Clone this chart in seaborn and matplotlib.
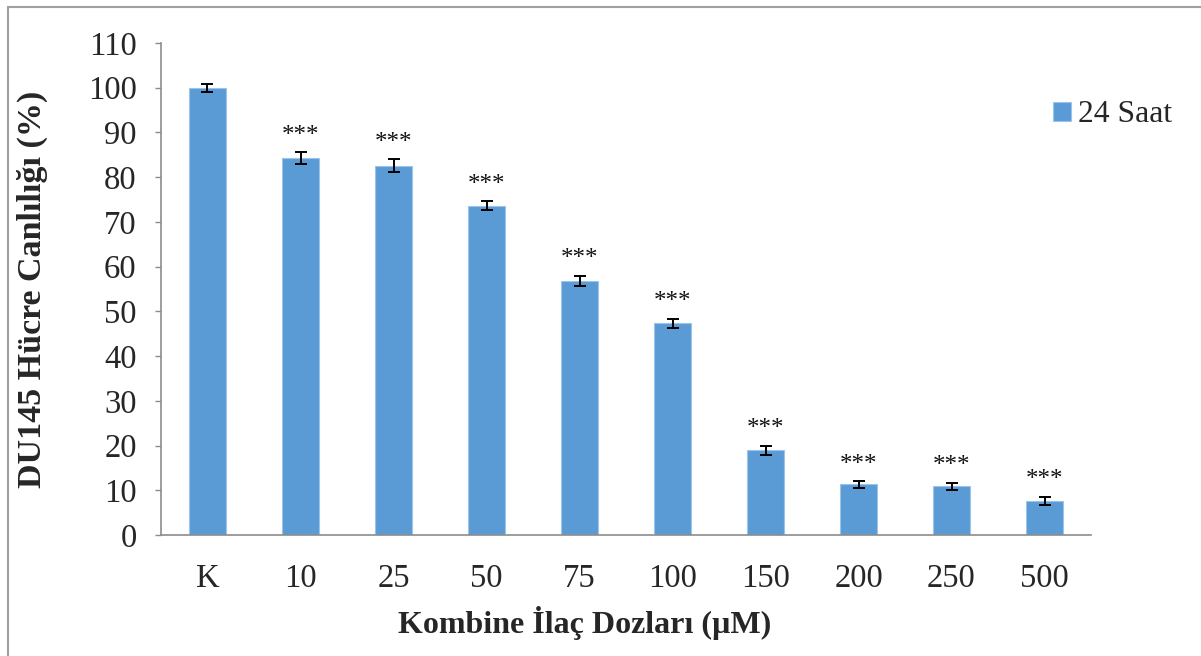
import pandas as pd
import matplotlib.pyplot as plt
import seaborn as sns
from matplotlib.patches import Rectangle

# values
doses = ['K', '10', '25', '50', '75', '100', '150', '200', '250', '500']
viability = [100.0, 84.3, 82.6, 73.6, 56.8, 47.3, 18.9, 11.3, 10.9, 7.6]
errors = [0.9, 1.3, 1.4, 1.0, 1.2, 1.0, 1.05, 0.75, 0.8, 0.9]
stars = ['', '***', '***', '***', '***', '***', '***', '***', '***', '***']

df = pd.DataFrame({'Doz': doses, 'Canlilik': viability, 'Seri': '24 Saat'})

sns.set_style('white')
plt.rcParams['font.family'] = ['Liberation Serif', 'DejaVu Serif']

fig = plt.figure(figsize=(12.01, 6.56), dpi=100)
ax = fig.add_axes([161 / 1201, 1 - 535 / 656, 930 / 1201, 492 / 656])

bar_color = '#5B9BD5'
sns.barplot(data=df, x='Doz', y='Canlilik', hue='Seri', palette=[bar_color],
            saturation=1, width=0.4, errorbar=None, edgecolor='#9cc3e8',
            linewidth=0.8, ax=ax)

ax.errorbar(range(len(doses)), viability, yerr=errors, fmt='none',
            ecolor='black', elinewidth=1.4, capsize=4.5, capthick=1.4)

for i, (v, e, s) in enumerate(zip(viability, errors, stars)):
    if s:
        ax.annotate(s, (i, v + e), xytext=(0, 4), textcoords='offset points',
                    ha='center', va='bottom', fontsize=18, color='#111111')

ax.set_ylim(0, 110)
ax.set_xlim(-0.5, len(doses) - 0.5)
ax.set_yticks(range(0, 111, 10))
ax.tick_params(axis='y', which='both', left=True, length=4.5, width=1,
               color='#8c8c8c', pad=13, labelsize=23.5)
ax.tick_params(axis='x', bottom=False, pad=17, labelsize=23.5)

for side in ['top', 'right']:
    ax.spines[side].set_visible(False)
for side in ['left', 'bottom']:
    ax.spines[side].set_color('#8c8c8c')
    ax.spines[side].set_linewidth(1.2)

ax.set_xlabel('Kombine İlaç Dozları (µM)', fontsize=23, fontweight='bold', labelpad=9)
ax.xaxis.label.set_x(0.456)
ax.set_ylabel('DU145 Hücre Canlılığı (%)', fontsize=24.5, fontweight='bold', labelpad=29)

leg = ax.legend(loc='upper left', bbox_to_anchor=(0.946, 0.909), frameon=False,
                fontsize=22.8, handlelength=0.54, handleheight=0.54, handletextpad=0.25,
                borderaxespad=0)

fig.patches.append(Rectangle((8 / 1201, -0.1), 1.2, 1.1 - 7 / 656, transform=fig.transFigure,
                             fill=False, edgecolor='#a0a0a0', linewidth=1.5, clip_on=False))

fig.savefig('out.png', dpi=100)
